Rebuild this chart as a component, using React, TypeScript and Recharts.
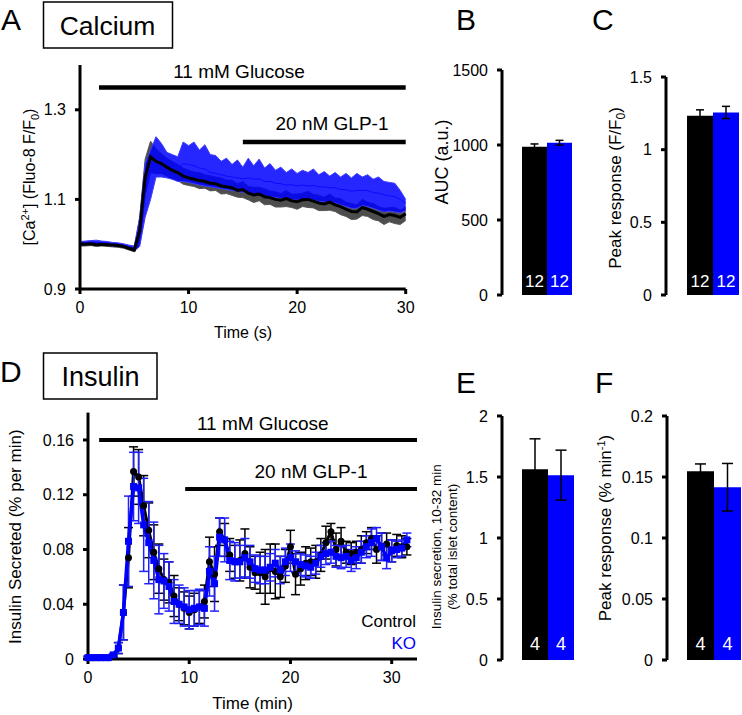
import {
  Area,
  Bar,
  BarChart,
  Cell,
  ComposedChart,
  ErrorBar,
  LabelList,
  Legend,
  Line,
  ReferenceLine,
  XAxis,
  YAxis,
} from "recharts"

const FONT = "'Liberation Sans', Arial, Helvetica, sans-serif"
const BLUE = "#0000ff"

// ---- Panel A: calcium trace (sampled every 0.5 s) ----
const caTime = [
  0, 0.5, 1, 1.5, 2, 2.5, 3, 3.5, 4, 4.5, 5, 5.5, 6, 6.5, 7, 7.5, 8, 8.5, 9, 9.5, 10,
  10.5, 11, 11.5, 12, 12.5, 13, 13.5, 14, 14.5, 15, 15.5, 16, 16.5, 17, 17.5, 18, 18.5, 19, 19.5, 20,
  20.5, 21, 21.5, 22, 22.5, 23, 23.5, 24, 24.5, 25, 25.5, 26, 26.5, 27, 27.5, 28, 28.5, 29, 29.5, 30,
]
const caCtrlMean = [
  1.0, 1.0, 1.001, 0.999, 1.0, 0.999, 0.998, 0.997, 0.995, 0.991, 0.987,
  1.03, 1.15, 1.195, 1.185, 1.18, 1.172, 1.165, 1.16, 1.152, 1.148,
  1.145, 1.142, 1.14, 1.136, 1.135, 1.13, 1.128, 1.126, 1.12, 1.122,
  1.114, 1.11, 1.112, 1.106, 1.104, 1.1, 1.098, 1.102, 1.097, 1.095,
  1.099, 1.1, 1.096, 1.092, 1.09, 1.094, 1.088, 1.084, 1.078, 1.073,
  1.072, 1.082, 1.078, 1.073, 1.068, 1.062, 1.066, 1.064, 1.06, 1.068,
]
const caCtrlSem = [
  0.004, 0.004, 0.004, 0.004, 0.004, 0.004, 0.004, 0.004, 0.004, 0.004, 0.004,
  0.03, 0.04, 0.035, 0.028, 0.022, 0.02, 0.02, 0.018, 0.018, 0.017,
  0.016, 0.018, 0.015, 0.017, 0.015, 0.018, 0.015, 0.017, 0.015, 0.018,
  0.015, 0.017, 0.015, 0.018, 0.015, 0.017, 0.015, 0.018, 0.015, 0.017,
  0.015, 0.018, 0.015, 0.017, 0.015, 0.018, 0.015, 0.018, 0.016, 0.018,
  0.016, 0.018, 0.016, 0.018, 0.016, 0.018, 0.016, 0.018, 0.016, 0.015,
]
const caKoMean = [
  1.002, 1.003, 1.004, 1.004, 1.003, 1.002, 1.0, 0.999, 0.997, 0.994, 0.99,
  1.02, 1.11, 1.16, 1.19, 1.185, 1.178, 1.172, 1.17, 1.18, 1.178,
  1.175, 1.17, 1.168, 1.16, 1.158, 1.155, 1.152, 1.15, 1.148, 1.146,
  1.148, 1.145, 1.146, 1.14, 1.14, 1.136, 1.135, 1.132, 1.133, 1.13,
  1.132, 1.13, 1.131, 1.128, 1.128, 1.126, 1.126, 1.122, 1.122, 1.118,
  1.12, 1.12, 1.12, 1.115, 1.114, 1.11, 1.108, 1.106, 1.1, 1.092,
]
const caKoLow = [
  0.998, 0.999, 1.0, 1.0, 0.999, 0.998, 0.996, 0.995, 0.993, 0.99, 0.985,
  0.995, 1.06, 1.1, 1.15, 1.15, 1.148, 1.145, 1.14, 1.14, 1.138,
  1.135, 1.132, 1.13, 1.128, 1.126, 1.124, 1.122, 1.12, 1.118, 1.116,
  1.114, 1.112, 1.112, 1.108, 1.106, 1.104, 1.102, 1.1, 1.1, 1.098,
  1.1, 1.1, 1.098, 1.096, 1.094, 1.094, 1.092, 1.088, 1.084, 1.08,
  1.08, 1.086, 1.084, 1.08, 1.076, 1.072, 1.074, 1.072, 1.07, 1.075,
]
const caKoHigh = [
  1.006, 1.007, 1.008, 1.009, 1.007, 1.006, 1.004, 1.003, 1.001, 0.998, 0.996,
  1.06, 1.18, 1.21, 1.24, 1.225, 1.205, 1.2, 1.195, 1.228, 1.22,
  1.228, 1.21, 1.222, 1.2, 1.198, 1.185, 1.192, 1.178, 1.188, 1.172,
  1.192, 1.175, 1.19, 1.17, 1.18, 1.165, 1.172, 1.16, 1.168, 1.158,
  1.165, 1.16, 1.168, 1.155, 1.162, 1.152, 1.16, 1.15, 1.158, 1.148,
  1.158, 1.15, 1.155, 1.145, 1.15, 1.14, 1.138, 1.136, 1.12, 1.1,
]

// ---- Panel D: insulin secretion (every 0.5 min) ----
const insTime = [
  0, 0.5, 1, 1.5, 2, 2.5, 3, 3.5, 4, 4.5, 5, 5.5, 6, 6.5, 7, 7.5, 8, 8.5, 9, 9.5,
  10, 10.5, 11, 11.5, 12, 12.5, 13, 13.5, 14, 14.5, 15, 15.5, 16, 16.5, 17, 17.5, 18, 18.5, 19, 19.5,
  20, 20.5, 21, 21.5, 22, 22.5, 23, 23.5, 24, 24.5, 25, 25.5, 26, 26.5, 27, 27.5, 28, 28.5, 29, 29.5,
  30, 30.5, 31, 31.5,
]
const insCtrlMean = [
  0.001, 0.001, 0.001, 0.001, 0.001, 0.002, 0.008, 0.034, 0.074, 0.137,
  0.133, 0.112, 0.094, 0.078, 0.066, 0.058, 0.056, 0.046, 0.04, 0.037,
  0.034, 0.036, 0.038, 0.042, 0.071, 0.062, 0.093, 0.087, 0.076, 0.071,
  0.072, 0.077, 0.067, 0.063, 0.063, 0.06, 0.066, 0.064, 0.06, 0.068,
  0.082, 0.062, 0.066, 0.07, 0.071, 0.071, 0.076, 0.085, 0.093, 0.08,
  0.086, 0.078, 0.077, 0.078, 0.08, 0.085, 0.088, 0.08, 0.082, 0.084,
  0.079, 0.083, 0.082, 0.082,
]
const insCtrlErr = [
  0.001, 0.001, 0.001, 0.001, 0.001, 0.001, 0.004, 0.02, 0.022, 0.018,
  0.02, 0.022, 0.02, 0.02, 0.018, 0.015, 0.015, 0.015, 0.012, 0.012,
  0.012, 0.012, 0.012, 0.012, 0.018, 0.02, 0.01, 0.012, 0.012, 0.012,
  0.015, 0.018, 0.015, 0.012, 0.015, 0.02, 0.018, 0.02, 0.015, 0.012,
  0.012, 0.015, 0.012, 0.012, 0.01, 0.012, 0.012, 0.012, 0.006, 0.012,
  0.01, 0.008, 0.008, 0.008, 0.01, 0.008, 0.008, 0.01, 0.01, 0.008,
  0.008, 0.008, 0.008, 0.006,
]
const insKoMean = [
  0.001, 0.001, 0.001, 0.001, 0.001, 0.003, 0.008, 0.034, 0.086, 0.126,
  0.125, 0.098, 0.085, 0.072, 0.058, 0.057, 0.053, 0.042, 0.04, 0.038,
  0.036, 0.037, 0.038, 0.037, 0.064, 0.055, 0.089, 0.087, 0.072, 0.071,
  0.071, 0.074, 0.071, 0.066, 0.065, 0.065, 0.067, 0.07, 0.065, 0.071,
  0.074, 0.071, 0.069, 0.068, 0.067, 0.07, 0.075, 0.077, 0.078, 0.075,
  0.074, 0.075, 0.072, 0.074, 0.078, 0.082, 0.085, 0.088, 0.082, 0.074,
  0.079, 0.08, 0.081, 0.087,
]
const insKoErr = [
  0.001, 0.001, 0.001, 0.001, 0.001, 0.001, 0.004, 0.02, 0.033, 0.025,
  0.026, 0.034, 0.03, 0.028, 0.025, 0.02, 0.018, 0.016, 0.014, 0.014,
  0.014, 0.013, 0.013, 0.013, 0.018, 0.02, 0.014, 0.016, 0.014, 0.014,
  0.012, 0.014, 0.012, 0.01, 0.01, 0.01, 0.01, 0.01, 0.01, 0.01,
  0.01, 0.008, 0.008, 0.008, 0.008, 0.008, 0.008, 0.008, 0.008, 0.008,
  0.008, 0.008, 0.008, 0.008, 0.008, 0.008, 0.01, 0.008, 0.01, 0.008,
  0.008, 0.006, 0.006, 0.005,
]

// ---- Bar panels ----
const groups = ["Control", "KO"]
const barColors = ["#000000", BLUE]
const aucValues = [988, 1015]
const aucErr = [19, 16]
const caPeakValues = [1.234, 1.256]
const caPeakErr = [0.04, 0.042]
const caN = [12, 12]
const secValues = [1.563, 1.515]
const secErr = [0.25, 0.205]
const insPeakValues = [0.1547, 0.1416]
const insPeakErr = [0.006, 0.0195]
const insN = [4, 4]

const axisStyle = {
  axisLine: { stroke: "#000", strokeWidth: 3 },
  tickLine: { stroke: "#000", strokeWidth: 3 },
  tick: { fill: "#000", fontSize: 16, fontFamily: FONT },
  tickSize: 5,
}

type TxtProps = { px: number; py: number; text: string; size?: number; anchor?: "start" | "middle" | "end"; color?: string }
const Txt = ({ px, py, text, size = 16, anchor = "middle", color = "#000" }: TxtProps) => (
  <text x={px} y={py} textAnchor={anchor} fontSize={size} fontFamily={FONT} fill={color}>
    {text}
  </text>
)

const rot = (x: number, y: number) => `rotate(-90 ${x} ${y})`

const CaYLabel = () => (
  <text x={35} y={177} transform={rot(35, 177)} textAnchor="middle" fontSize={16} fontFamily={FONT} fill="#000">
    [Ca<tspan dy={-6} fontSize={11}>2+</tspan>
    <tspan dy={6}>] (Fluo-8 F/F</tspan>
    <tspan dy={4} fontSize={11}>0</tspan>
    <tspan dy={-4}>)</tspan>
  </text>
)

const AucYLabel = () => (
  <text x={28} y={162} transform={rot(28, 162)} textAnchor="middle" fontSize={18} fontFamily={FONT} fill="#000">
    AUC (a.u.)
  </text>
)

const CaPeakYLabel = () => (
  <text x={41} y={188} transform={rot(41, 188)} textAnchor="middle" fontSize={17} fontFamily={FONT} fill="#000">
    Peak response (F/F<tspan dy={4} fontSize={12}>0</tspan>
    <tspan dy={-4}>)</tspan>
  </text>
)

const InsYLabel = () => (
  <text x={21.5} y={191.7} transform={rot(21.5, 191.7)} textAnchor="middle" fontSize={17} fontFamily={FONT} fill="#000">
    Insulin Secreted (% per min)
  </text>
)

const SecYLabel = () => (
  <g fontSize={13.5} fontFamily={FONT} fill="#000">
    <text x={21} y={201.7} transform={rot(21, 201.7)} textAnchor="middle">
      Insulin secretion, 10-32 min
    </text>
    <text x={37} y={201.7} transform={rot(37, 201.7)} textAnchor="middle">
      (% total islet content)
    </text>
  </g>
)

const InsPeakYLabel = () => (
  <text x={31} y={183} transform={rot(31, 183)} textAnchor="middle" fontSize={17} fontFamily={FONT} fill="#000">
    Peak response (% min<tspan dy={-6} fontSize={11}>-1</tspan>
    <tspan dy={6}>)</tspan>
  </text>
)

function CalciumTrace() {
  const data = caTime.map((t, i) => ({
    t,
    ctrl: caCtrlMean[i],
    ctrlBand: [caCtrlMean[i] - caCtrlSem[i], caCtrlMean[i] + caCtrlSem[i]],
    ko: caKoMean[i],
    koBand: [caKoLow[i], caKoHigh[i]],
  }))
  return (
    <ComposedChart width={420} height={345} data={data} margin={{ top: 65, right: 14.3, bottom: 26, left: 0 }}>
      <XAxis
        dataKey="t"
        type="number"
        domain={[0, 30]}
        ticks={[0, 10, 20, 30]}
        height={30}
        tickMargin={8}
        {...axisStyle}
        label={<Txt px={243} py={338} text="Time (s)" />}
      />
      <YAxis type="number" domain={[0.9, 1.4]} ticks={[0.9, 1.1, 1.3]} width={80} tickMargin={9} {...axisStyle} label={<CaYLabel />} />
      <ReferenceLine
        segment={[{ x: 1.75, y: 1.35 }, { x: 30, y: 1.35 }]}
        stroke="#000"
        strokeWidth={4.5}
        label={<Txt px={239} py={78} text="11 mM Glucose" size={19} />}
      />
      <ReferenceLine
        segment={[{ x: 15, y: 1.228 }, { x: 30, y: 1.228 }]}
        stroke="#000"
        strokeWidth={4.5}
        label={<Txt px={332} py={130} text="20 nM GLP-1" size={19} />}
      />
      <Area dataKey="ctrlBand" type="linear" stroke="#555" strokeWidth={1} fill="#3a3a3a" fillOpacity={0.9} isAnimationActive={false} dot={false} activeDot={false} />
      <Area dataKey="koBand" type="linear" stroke="#3d3dff" strokeWidth={1} fill={BLUE} fillOpacity={0.85} isAnimationActive={false} dot={false} activeDot={false} />
      <Line dataKey="ko" type="linear" stroke="#0a0aff" strokeWidth={1} dot={false} activeDot={false} isAnimationActive={false} />
      <Line dataKey="ctrl" type="linear" stroke="#000" strokeWidth={3} dot={false} activeDot={false} isAnimationActive={false} />
    </ComposedChart>
  )
}

const KoSquare = (p: { cx?: number; cy?: number; index?: number }) => (
  <rect key={`ko-${p.index}`} x={(p.cx ?? 0) - 3.5} y={(p.cy ?? 0) - 3.5} width={7} height={7} fill={BLUE} />
)

function InsulinTrace() {
  const data = insTime.map((t, i) => ({
    t,
    ctrl: insCtrlMean[i],
    ctrlErr: insCtrlErr[i],
    ko: insKoMean[i],
    koErr: insKoErr[i],
  }))
  return (
    <ComposedChart width={420} height={370} data={data} margin={{ top: 67.6, right: 3, bottom: 26, left: 0 }}>
      <XAxis
        dataKey="t"
        type="number"
        domain={[0, 32.5]}
        ticks={[0, 10, 20, 30]}
        height={30}
        tickMargin={8}
        {...axisStyle}
        label={<Txt px={252.5} py={364} text="Time (min)" size={17} />}
      />
      <YAxis
        type="number"
        domain={[0, 0.18]}
        ticks={[0, 0.04, 0.08, 0.12, 0.16]}
        width={88}
        tickMargin={9}
        {...axisStyle}
        label={<InsYLabel />}
      />
      <ReferenceLine
        segment={[{ x: 1.1, y: 0.16 }, { x: 32.5, y: 0.16 }]}
        stroke="#000"
        strokeWidth={4}
        label={<Txt px={262.7} py={85} text="11 mM Glucose" size={19} />}
      />
      <ReferenceLine
        segment={[{ x: 9.6, y: 0.1242 }, { x: 32.5, y: 0.1242 }]}
        stroke="#000"
        strokeWidth={4}
        label={<Txt px={311} py={133.3} text="20 nM GLP-1" size={19} />}
      />
      <Line
        dataKey="ctrl"
        name="Control"
        type="linear"
        stroke="#000"
        strokeWidth={3}
        dot={{ r: 3.5, fill: "#000", stroke: "none" }}
        activeDot={false}
        isAnimationActive={false}
      >
        <ErrorBar dataKey="ctrlErr" direction="y" width={4.5} stroke="#000" strokeWidth={1.5} />
      </Line>
      <Line
        dataKey="ko"
        name="KO"
        type="linear"
        stroke={BLUE}
        strokeWidth={3.5}
        dot={KoSquare}
        activeDot={false}
        isAnimationActive={false}
      >
        <ErrorBar dataKey="koErr" direction="y" width={4.5} stroke="#1f1fff" strokeWidth={1.5} />
      </Line>
      <Legend
        layout="vertical"
        align="center"
        verticalAlign="middle"
        wrapperStyle={{ left: "auto", right: 4, top: 266, width: "auto", height: "auto" }}
        content={() => (
          <div style={{ textAlign: "right", fontSize: 17, lineHeight: "21.6px", fontFamily: FONT }}>
            <div style={{ color: "#000" }}>Control</div>
            <div style={{ color: BLUE }}>KO</div>
          </div>
        )}
      />
    </ComposedChart>
  )
}

type BarPanelProps = {
  values: number[]
  errors: number[]
  counts: number[]
  domain: [number, number]
  ticks: number[]
  width: number
  height: number
  top: number
  bottom: number
  axisWidth: number
  pad: [number, number]
  cap: number
  nSize: number
  nOffset: number
  label: React.ReactElement
}

function BarPanel(p: BarPanelProps) {
  const data = groups.map((g, i) => ({ group: g, value: p.values[i], err: p.errors[i], n: p.counts[i] }))
  return (
    <BarChart
      width={p.width}
      height={p.height}
      data={data}
      margin={{ top: p.top, right: 0, bottom: p.bottom, left: 0 }}
      barCategoryGap={0}
      barGap={0}
    >
      <XAxis dataKey="group" hide padding={{ left: p.pad[0], right: p.pad[1] }} />
      <YAxis
        type="number"
        domain={p.domain}
        ticks={p.ticks}
        width={p.axisWidth}
        tickMargin={9}
        {...axisStyle}
        label={p.label}
      />
      <Bar dataKey="value" isAnimationActive={false}>
        {data.map((d, i) => (
          <Cell key={d.group} fill={barColors[i]} />
        ))}
        <ErrorBar dataKey="err" direction="y" width={p.cap} stroke="#000" strokeWidth={1.5} />
        <LabelList dataKey="n" position="insideBottom" offset={p.nOffset} fill="#fff" fontSize={p.nSize} fontFamily={FONT} />
      </Bar>
    </BarChart>
  )
}

const abs = (left: number, top: number): React.CSSProperties => ({ position: "absolute", left, top })

export default function App() {
  return (
    <div
      style={{
        position: "absolute",
        left: 0,
        top: 0,
        width: 742,
        height: 715,
        background: "#fff",
        overflow: "hidden",
        fontFamily: FONT,
      }}
    >
      <div style={abs(0, 0)}>
        <CalciumTrace />
      </div>
      <div style={abs(420, 0)}>
        <BarPanel
          values={aucValues}
          errors={aucErr}
          counts={caN}
          domain={[0, 1500]}
          ticks={[0, 500, 1000, 1500]}
          width={172}
          height={330}
          top={70}
          bottom={35}
          axisWidth={82}
          pad={[20, 20]}
          cap={4}
          nSize={17}
          nOffset={8}
          label={<AucYLabel />}
        />
      </div>
      <div style={abs(580, 0)}>
        <BarPanel
          values={caPeakValues}
          errors={caPeakErr}
          counts={caN}
          domain={[0, 1.5]}
          ticks={[0, 0.5, 1, 1.5]}
          width={162}
          height={330}
          top={77}
          bottom={35}
          axisWidth={86}
          pad={[21, 3]}
          cap={4}
          nSize={17}
          nOffset={8}
          label={<CaPeakYLabel />}
        />
      </div>
      <div style={abs(0, 345)}>
        <InsulinTrace />
      </div>
      <div style={abs(420, 345)}>
        <BarPanel
          values={secValues}
          errors={secErr}
          counts={insN}
          domain={[0, 2]}
          ticks={[0, 0.5, 1, 1.5, 2]}
          width={172}
          height={370}
          top={71}
          bottom={55}
          axisWidth={82}
          pad={[20, 18]}
          cap={5.5}
          nSize={18}
          nOffset={10}
          label={<SecYLabel />}
        />
      </div>
      <div style={abs(580, 345)}>
        <BarPanel
          values={insPeakValues}
          errors={insPeakErr}
          counts={insN}
          domain={[0, 0.2]}
          ticks={[0, 0.05, 0.1, 0.15, 0.2]}
          width={162}
          height={370}
          top={71}
          bottom={55}
          axisWidth={87}
          pad={[20, 1]}
          cap={5.5}
          nSize={18}
          nOffset={10}
          label={<InsPeakYLabel />}
        />
      </div>
      {/* panel letters and section boxes */}
      <svg width={742} height={715} style={{ position: "absolute", left: 0, top: 0, pointerEvents: "none" }}>
        <g fontFamily={FONT} fill="#000" fontSize={30}>
          <text x={1} y={30}>A</text>
          <text x={456} y={30}>B</text>
          <text x={592} y={30}>C</text>
          <text x={0} y={381.5}>D</text>
          <text x={456} y={393}>E</text>
          <text x={595} y={393}>F</text>
        </g>
        <rect x={43.5} y={2} width={129} height={46} fill="none" stroke="#000" strokeWidth={1.5} />
        <text x={107.5} y={35} textAnchor="middle" fontSize={26.5} fontFamily={FONT}>
          Calcium
        </text>
        <rect x={43.5} y={353} width={113.5} height={46} fill="none" stroke="#000" strokeWidth={1.5} />
        <text x={100.5} y={386} textAnchor="middle" fontSize={27} fontFamily={FONT}>
          Insulin
        </text>
      </svg>
    </div>
  )
}
